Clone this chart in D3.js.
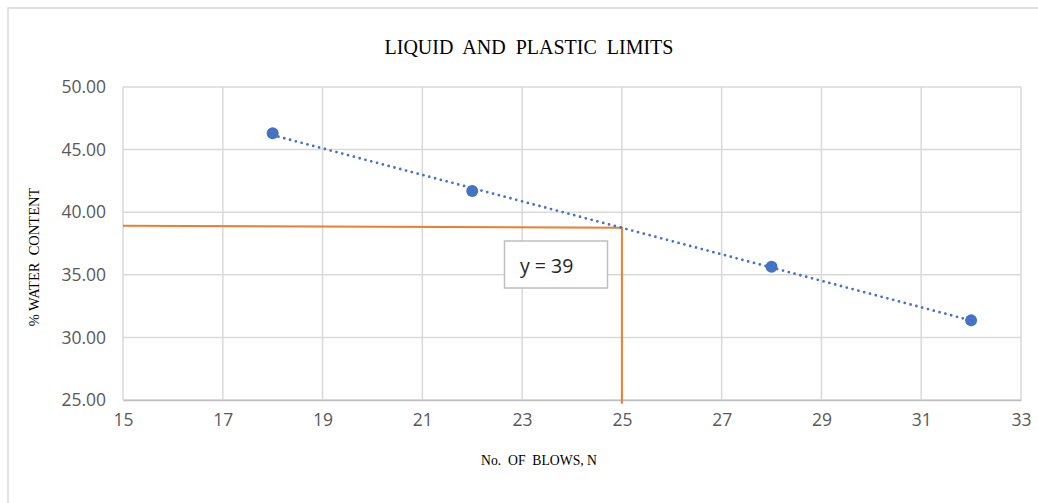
<!DOCTYPE html>
<html>
<head>
<meta charset="utf-8">
<script src="https://cdn.jsdelivr.net/npm/d3@7"></script>
<style>
  html, body { margin: 0; padding: 0; background: #ffffff; }
  svg { display: block; }
</style>
</head>
<body>
<div id="chart"></div>
<script>
// Flow test: number of blows vs. water content
const blows = [18, 22, 28, 32];
const waterContent = [46.30, 41.69, 35.65, 31.36];

// Liquid limit read-off guide (orange) at N = 25
const guideX = [15, 25, 25];
const guideY = [38.92, 38.75, 24.7];

const xTicks = [15, 17, 19, 21, 23, 25, 27, 29, 31, 33];
const yTicks = [25, 30, 35, 40, 45, 50];

const titleText = "LIQUID  AND  PLASTIC  LIMITS";
const xTitle = "No.  OF  BLOWS, N";
const yTitle = "% WATER  CONTENT";
const boxLabel = "y = 39";

const W = 1038, H = 503;
const margin = { left: 123, top: 87, right: 1038 - 1021, bottom: 503 - 400 };

const svg = d3.select("#chart").append("svg")
  .attr("width", W).attr("height", H);

// chart frame
svg.append("rect")
  .attr("x", 8).attr("y", 8)
  .attr("width", W + 10).attr("height", H + 10)
  .attr("fill", "#ffffff")
  .attr("stroke", "#d9d9d9").attr("stroke-width", 1.5);

const x = d3.scaleLinear().domain([15, 33]).range([margin.left, W - margin.right]);
const y = d3.scaleLinear().domain([25, 50]).range([H - margin.bottom, margin.top]);

// gridlines
const grid = svg.append("g");
grid.selectAll("line.v").data(xTicks).join("line")
  .attr("x1", d => x(d)).attr("x2", d => x(d))
  .attr("y1", y(25)).attr("y2", y(50))
  .attr("stroke", "#d9d9d9").attr("stroke-width", 1.5);
grid.selectAll("line.h").data(yTicks).join("line")
  .attr("x1", x(15)).attr("x2", x(33))
  .attr("y1", d => y(d)).attr("y2", d => y(d))
  .attr("stroke", "#d9d9d9").attr("stroke-width", 1.5);

// x axis
const xAxis = svg.append("g")
  .attr("transform", `translate(0,${y(25)})`)
  .call(d3.axisBottom(x).tickValues(xTicks).tickSize(0).tickPadding(14).tickFormat(d3.format("d")));
xAxis.select(".domain").attr("stroke", "#bfbfbf").attr("stroke-width", 1.5);
xAxis.selectAll("text")
  .attr("fill", "#595959")
  .style("font-family", "'Open Sans', sans-serif")
  .style("font-size", "17.5px");

// y axis
const yAxis = svg.append("g")
  .attr("transform", `translate(${x(15)},0)`)
  .call(d3.axisLeft(y).tickValues(yTicks).tickSize(0).tickPadding(17).tickFormat(d3.format(".2f")));
yAxis.select(".domain").remove();
yAxis.selectAll("text")
  .attr("fill", "#595959")
  .style("font-family", "'Open Sans', sans-serif")
  .style("font-size", "17.5px");

// orange guide line
const guideLine = d3.line().x(d => x(d[0])).y(d => y(d[1]));
svg.append("path")
  .datum(d3.zip(guideX, guideY))
  .attr("d", guideLine)
  .attr("fill", "none")
  .attr("stroke", "#ed7d31")
  .attr("stroke-width", 2);

// linear trendline through the data
const mx = d3.mean(blows), my = d3.mean(waterContent);
const sxy = d3.sum(blows, (b, i) => (b - mx) * (waterContent[i] - my));
const sxx = d3.sum(blows, b => (b - mx) * (b - mx));
const slope = sxy / sxx, intercept = my - slope * mx;
const xExt = d3.extent(blows);
svg.append("line")
  .attr("x1", x(xExt[0])).attr("y1", y(intercept + slope * xExt[0]))
  .attr("x2", x(xExt[1])).attr("y2", y(intercept + slope * xExt[1]))
  .attr("stroke", "#4472c4")
  .attr("stroke-width", 2.8)
  .attr("stroke-linecap", "round")
  .attr("stroke-dasharray", "0 6");

// data markers
svg.selectAll("circle.pt").data(blows).join("circle")
  .attr("cx", d => x(d))
  .attr("cy", (d, i) => y(waterContent[i]))
  .attr("r", 6)
  .attr("fill", "#4472c4");

// label box
const box = svg.append("g");
box.append("rect")
  .attr("x", 504.5).attr("y", 241)
  .attr("width", 103).attr("height", 47)
  .attr("fill", "#ffffff")
  .attr("stroke", "#bfbfbf").attr("stroke-width", 1.5);
box.append("text")
  .attr("x", 520).attr("y", 273)
  .attr("fill", "#262626")
  .style("font-family", "'Open Sans', sans-serif")
  .style("font-size", "19.5px")
  .text(boxLabel);

// titles
svg.append("text")
  .attr("x", 529).attr("y", 54)
  .attr("text-anchor", "middle")
  .attr("fill", "#000000")
  .style("font-family", "'Liberation Serif', 'Times New Roman', serif")
  .style("font-size", "20px")
  .attr("xml:space", "preserve")
  .text(titleText);

svg.append("text")
  .attr("x", 539).attr("y", 465)
  .attr("text-anchor", "middle")
  .attr("fill", "#000000")
  .style("font-family", "'Liberation Serif', 'Times New Roman', serif")
  .style("font-size", "13.7px")
  .attr("xml:space", "preserve")
  .text(xTitle);

svg.append("text")
  .attr("transform", "translate(39,257) rotate(-90)")
  .attr("text-anchor", "middle")
  .attr("fill", "#000000")
  .style("font-family", "'Liberation Serif', 'Times New Roman', serif")
  .style("font-size", "14.5px")
  .attr("xml:space", "preserve")
  .text(yTitle);
</script>
</body>
</html>
